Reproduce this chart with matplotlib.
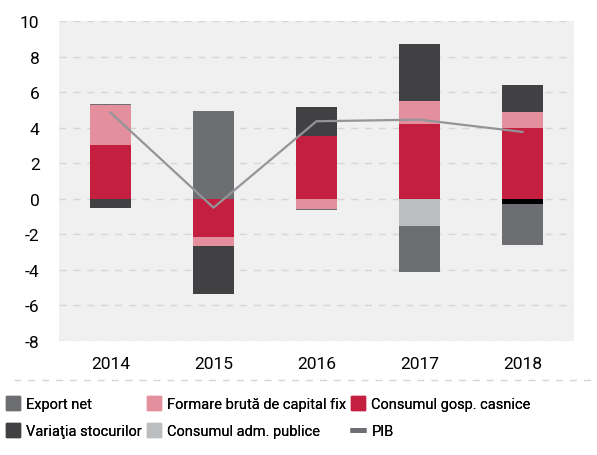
import numpy as np
import matplotlib
matplotlib.use('Agg')
import matplotlib.pyplot as plt
from matplotlib.lines import Line2D

plt.rcParams['font.family'] = ['Roboto', 'DejaVu Sans']
plt.rcParams['axes.unicode_minus'] = False

years = ['2014', '2015', '2016', '2017', '2018']

# contributii la crestere (p.p.)
consum_gosp = [3.0, -2.13, 3.53, 4.22, 3.99]
discrepanta = [0.05, 0.0, 0.0, 0.0, -0.27]
formare = [2.2, -0.52, -0.57, 1.28, 0.87]
consum_adm = [0.0, 0.0, 0.0, -1.54, 0.0]
export_net = [0.08, 4.95, -0.05, -2.56, -2.31]
stocuri = [-0.5, -2.7, 1.62, 3.22, 1.55]
pib = [4.85, -0.5, 4.36, 4.45, 3.76]

series = [
    (consum_gosp, '#c41f3e'),
    (discrepanta, '#000000'),
    (formare, '#e38f9d'),
    (consum_adm, '#bcbdbf'),
    (export_net, '#6d6e71'),
    (stocuri, '#414143'),
]

fig = plt.figure(figsize=(5.97, 4.56), dpi=100)
ax = fig.add_axes([0.0988, 0.25, 0.8627, 0.7018])
ax.set_facecolor('#f0f0f0')

x = np.arange(len(years))
w = 0.39
pos_base = np.zeros(len(years))
neg_base = np.zeros(len(years))
for vals, col in series:
    v = np.array(vals)
    bottom = np.where(v >= 0, pos_base, neg_base)
    ax.bar(x, v, w, bottom=bottom, color=col, zorder=2)
    pos_base = pos_base + np.where(v >= 0, v, 0)
    neg_base = neg_base + np.where(v < 0, v, 0)

ax.plot(x, pib, color='#939598', lw=1.6, zorder=3)

ax.set_xlim(-0.5, 4.5)
ax.set_ylim(-8, 10)
ax.set_yticks(np.arange(-8, 11, 2))
ax.set_xticks(x)
ax.set_xticklabels(years)
ax.tick_params(length=0, labelsize=12.5)
ax.tick_params(axis='y', pad=14)
ax.tick_params(axis='x', pad=11)
ax.grid(axis='y', color='#d6d6d6', linestyle=(0, (5, 5)), lw=1, zorder=1)
for s in ax.spines.values():
    s.set_visible(False)

# linie separatoare deasupra legendei
fig.add_artist(Line2D([0.023, 0.99], [1 - 381 / 456, 1 - 381 / 456],
                      color='#d6d6d6', lw=1, linestyle=(0, (5, 5))))

def sq(c):
    return Line2D([], [], marker='s', markersize=10, color=c, linestyle='none')

cols = [
    ([sq('#6d6e71'), sq('#414143')], ['Export net', 'Variaţia stocurilor'], 3 / 597),
    ([sq('#e38f9d'), sq('#bcbdbf')], ['Formare brută de capital fix', 'Consumul adm. publice'], 144 / 597),
    ([sq('#c41f3e'),
      Line2D([], [], marker='_', markersize=11, markeredgewidth=3.5, color='#6d6e71', linestyle='none')],
     ['Consumul gosp. casnice', 'PIB'], 348 / 597),
]
for hs, ls, x0 in cols:
    leg = fig.legend(hs, ls, loc='upper left', bbox_to_anchor=(x0, 1 - 394 / 456),
                     frameon=False, fontsize=10.5, handlelength=0.8, handletextpad=0.5,
                     labelspacing=0.9, borderaxespad=0, borderpad=0.3)
    fig.add_artist(leg)

fig.savefig('out.png', dpi=100, facecolor='white')
